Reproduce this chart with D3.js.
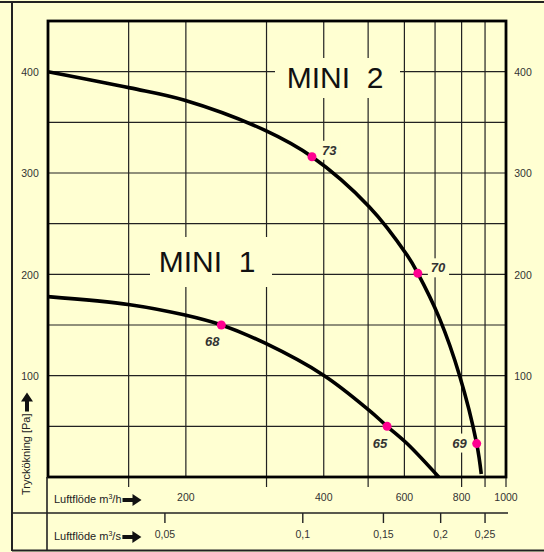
<!DOCTYPE html>
<html>
<head>
<meta charset="utf-8">
<script src="https://cdn.jsdelivr.net/npm/d3@7"></script>
<style>
  html, body { margin: 0; padding: 0; background: #ffffd2; }
  svg { display: block; font-family: "Liberation Sans", Arial, sans-serif; }
</style>
</head>
<body>
<div id="chart"></div>
<script>
// flow in m3/h, pressure in Pa
const mini1Flow = [100, 151, 198, 239, 298, 401, 502, 550, 608, 713];
const mini1Pressure = [178, 170, 160, 150, 132, 100, 66, 50, 33, 0];
const mini2Flow = [100, 151, 198, 298, 377, 502, 608, 642, 715, 792, 863, 883];
const mini2Pressure = [400, 384, 372, 342, 316, 267, 219, 201, 157, 100, 33, 3];

const pointFlow = [377, 642, 863, 239, 550];
const pointPressure = [316, 201, 33, 150, 50];
const pointLabels = ["73", "70", "69", "68", "65"];

const flowTicks = [200, 400, 600, 800, 1000];
const flowGrid = [150, 200, 300, 400, 500, 600, 700, 800, 900];
const flowStubs = [150, 300, 500, 800, 900, 1000];
const pressureTicks = [100, 200, 300, 400];
const pressureGrid = [50, 100, 150, 200, 250, 300, 350, 400];
const secTicks = [0.05, 0.1, 0.15, 0.2, 0.25];
const secLabels = ["0,05", "0,1", "0,15", "0,2", "0,25"];

const W = 544, H = 552;
const bg = "#ffffd2";
const pL = 48, pR = 506, pT = 21, pB = 477;

const svg = d3.select("#chart").append("svg")
  .attr("width", W).attr("height", H);

svg.append("rect").attr("width", W).attr("height", H).attr("fill", bg);

const x = d3.scaleLog().domain([100, 1000]).range([pL, pR]);
const y = d3.scaleLinear().domain([0, 450]).range([pB, pT]);

// grid
const grid = svg.append("g").attr("stroke", "#222").attr("stroke-width", 1.2);
grid.selectAll("line.v").data(flowGrid).enter().append("line")
  .attr("x1", d => x(d)).attr("x2", d => x(d))
  .attr("y1", pT).attr("y2", pB);
grid.selectAll("line.h").data(pressureGrid).enter().append("line")
  .attr("x1", pL).attr("x2", pR)
  .attr("y1", d => y(d)).attr("y2", d => y(d));
grid.selectAll("line.s").data(flowStubs).enter().append("line")
  .attr("x1", d => x(d)).attr("x2", d => x(d))
  .attr("y1", pB).attr("y2", pB + 10);

// model name boxes
const names = [
  { t: "MINI  2", bx: 275, by: 58, bw: 125, bh: 40, tx: 335, ty: 88 },
  { t: "MINI  1", bx: 150, by: 237, bw: 122, bh: 50, tx: 207, ty: 272 }
];
names.forEach(n => {
  svg.append("rect").attr("x", n.bx).attr("y", n.by)
    .attr("width", n.bw).attr("height", n.bh).attr("fill", bg);
  svg.append("text").attr("x", n.tx).attr("y", n.ty)
    .attr("text-anchor", "middle").attr("font-size", 30)
    .attr("fill", "#111").style("white-space", "pre").text(n.t);
});

// point labels with background patches
const labelOffsets = [[10, -2, "start"], [13, -1, "start"], [-10, 4, "end"], [-9, 21, "middle"], [-7, 22, "middle"]];
const lbl = svg.append("g");
pointLabels.forEach((t, i) => {
  const [dx, dy, anchor] = labelOffsets[i];
  const g = lbl.append("g");
  const txt = g.append("text")
    .attr("x", x(pointFlow[i]) + dx).attr("y", y(pointPressure[i]) + dy)
    .attr("text-anchor", anchor)
    .attr("font-size", 13).attr("font-weight", "bold").attr("font-style", "italic")
    .attr("fill", "#333").text(t);
  const b = txt.node().getBBox();
  g.insert("rect", "text")
    .attr("x", b.x - 3).attr("y", b.y - 2)
    .attr("width", b.width + 6).attr("height", b.height + 4)
    .attr("fill", bg);
});

// plot frame
svg.append("rect").attr("x", pL).attr("y", pT)
  .attr("width", pR - pL).attr("height", pB - pT)
  .attr("fill", "none").attr("stroke", "#000").attr("stroke-width", 2.8);

// curves
const line = d3.line().x(d => x(d[0])).y(d => y(d[1])).curve(d3.curveCatmullRom.alpha(0.5));
[[mini1Flow, mini1Pressure], [mini2Flow, mini2Pressure]].forEach(([f, p]) => {
  svg.append("path").datum(f.map((v, i) => [v, p[i]]))
    .attr("d", line).attr("fill", "none")
    .attr("stroke", "#000").attr("stroke-width", 3.6)
    .attr("stroke-linecap", "butt");
});

svg.selectAll("circle.pt").data(pointFlow).enter().append("circle")
  .attr("cx", d => x(d)).attr("cy", (d, i) => y(pointPressure[i]))
  .attr("r", 4.5).attr("fill", "#ff0090");

// outer frame
const frame = svg.append("g").attr("stroke", "#222").attr("fill", "none");
frame.append("line").attr("x1", 0).attr("x2", W).attr("y1", 2).attr("y2", 2).attr("stroke-width", 2);
frame.append("line").attr("x1", 12).attr("x2", 12).attr("y1", 2).attr("y2", 551).attr("stroke-width", 2);
frame.append("line").attr("x1", 12).attr("x2", W).attr("y1", 550.5).attr("y2", 550.5).attr("stroke-width", 2);
frame.append("line").attr("x1", 47).attr("x2", 47).attr("y1", pB).attr("y2", 551).attr("stroke-width", 1.6);
frame.append("line").attr("x1", 12).attr("x2", 508).attr("y1", 513).attr("y2", 513).attr("stroke-width", 1.4);

// pressure labels on both sides
const yl = d3.axisLeft(y).tickValues(pressureTicks).tickSize(0).tickPadding(0);
const yr = d3.axisRight(y).tickValues(pressureTicks).tickSize(0).tickPadding(0);
[[yl, 30], [yr, 523]].forEach(([ax, px]) => {
  const g = svg.append("g").attr("transform", `translate(${px},0)`).call(ax);
  g.select(".domain").remove();
  g.selectAll("text").attr("text-anchor", "middle").attr("dy", "0.35em")
    .attr("font-size", 10.5).attr("fill", "#333")
    .attr("font-family", "Liberation Sans, Arial, sans-serif");
});

// flow labels m3/h
svg.selectAll("text.fx").data(flowTicks).enter().append("text")
  .attr("x", d => x(d)).attr("y", 501)
  .attr("text-anchor", "middle").attr("font-size", 10.5).attr("fill", "#333")
  .text(d => d);

// second axis m3/s
svg.selectAll("line.sx").data(secTicks).enter().append("line")
  .attr("x1", d => x(d * 3600)).attr("x2", d => x(d * 3600))
  .attr("y1", 513).attr("y2", 523).attr("stroke", "#222").attr("stroke-width", 1.4);
svg.selectAll("text.sx").data(secTicks).enter().append("text")
  .attr("x", d => x(d * 3600)).attr("y", 538)
  .attr("text-anchor", "middle").attr("font-size", 10.5).attr("fill", "#333")
  .text((d, i) => secLabels[i]);

// axis titles
function title(tx, ty, unit) {
  const t = svg.append("text").attr("x", tx).attr("y", ty)
    .attr("font-size", 11).attr("fill", "#222");
  t.append("tspan").text("Luftflöde m");
  t.append("tspan").attr("font-size", 7).attr("dy", -4).text("3");
  t.append("tspan").attr("dy", 4).text(unit);
  const b = t.node().getBBox();
  const ax = b.x + b.width + 1, ay = ty - 3;
  svg.append("path")
    .attr("d", `M${ax},${ay - 2}h10v-4l9,6l-9,6v-4h-10z`)
    .attr("fill", "#111");
}
title(54, 503, "/h");
title(54, 540, "/s");

const yt = svg.append("text")
  .attr("transform", "translate(30,495) rotate(-90)")
  .attr("font-size", 11).attr("fill", "#222").text("Tryckökning [Pa]");
const yb = yt.node().getBBox();
svg.append("path")
  .attr("d", `M${30 - 6},${495 - yb.width - 2}h4v-10h-4l6,-9l6,9h-4v10h4z`)
  .attr("transform", "translate(-3,0)")
  .attr("fill", "#111");
</script>
</body>
</html>
